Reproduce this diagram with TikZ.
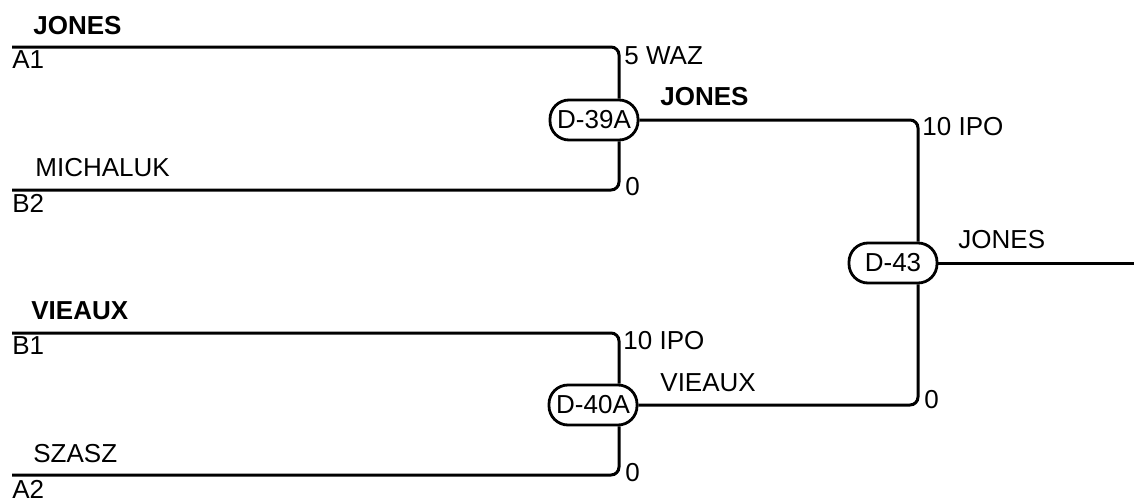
\documentclass[tikz,border=0pt]{standalone}
\usepackage{fontspec}
\setmainfont{Liberation Sans}
\usetikzlibrary{calc}

\begin{document}
\begin{tikzpicture}[x=0.5pt, y=-0.5pt,
		font=\fontsize{13}{15}\selectfont,
		wire/.style={line width=1.5pt, rounded corners=4pt},
		match/.style={draw, line width=1.4pt, fill=white, rounded corners=9.5pt,
			minimum width=44pt, minimum height=20pt, inner sep=0pt},
		lbl/.style={anchor=west, inner sep=0pt}]
			
			\useasboundingbox (0,0) rectangle (1134,503);
			
			% Spiele
			\node[match] (d39) at (594,120) {D-39A};
			\node[match] (d40) at (593,405) {D-40A};
			\node[match] (d43) at (893,263) {D-43};
			
			% Knickpunkte
			\coordinate (j39) at (619,120);
			\coordinate (j40) at (619,405);
			\coordinate (j43) at (918,263);
			
			% Startlinien
			\coordinate (a1) at (12,47);
			\coordinate (b2) at (12,190);
			\coordinate (b1) at (12,333);
			\coordinate (a2) at (12,475);
			\coordinate (out) at (1134,263);
			
			% erste Runde
			\draw[wire] (a1) -| (d39.north -| j39);
			\draw[wire] (b2) -| (d39.south -| j39);
			\draw[wire] (b1) -| (d40.north -| j40);
			\draw[wire] (a2) -| (d40.south -| j40);
			
			% zweite Runde
			\draw[wire] (d39.east) -| (d43.north -| j43);
			\draw[wire] (d40.east) -| (d43.south -| j43);
			\draw[wire] (d43.east) -- (out);
			
			% Namen
			\node[lbl, font=\fontsize{13}{15}\selectfont\bfseries] (n1) at (33,26) {JONES};
			\node[lbl] (s1) at (12,60) {A1};
			\node[lbl] (n2) at (35,168) {MICHALUK};
			\node[lbl] (s2) at (12,203) {B2};
			\node[lbl, font=\fontsize{13}{15}\selectfont\bfseries] (n3) at (31,311) {VIEAUX};
			\node[lbl] (s3) at (12,346) {B1};
			\node[lbl] (n4) at (33,454) {SZASZ};
			\node[lbl] (s4) at (12,489) {A2};
			\node[lbl, font=\fontsize{13}{15}\selectfont\bfseries] (w39) at (660,97) {JONES};
			\node[lbl] (w40) at (660,383) {VIEAUX};
			\node[lbl] (w43) at (958,240) {JONES};
			
			% Ergebnisse
			\node[lbl] (r1) at (624,56) {5 WAZ};
			\node[lbl] (r2) at (625,187) {0};
			\node[lbl] (r3) at (623,341) {10 IPO};
			\node[lbl] (r4) at (625,473) {0};
			\node[lbl] (r5) at (922,127) {10 IPO};
			\node[lbl] (r6) at (924,400) {0};
			
		\end{tikzpicture}
\end{document}
